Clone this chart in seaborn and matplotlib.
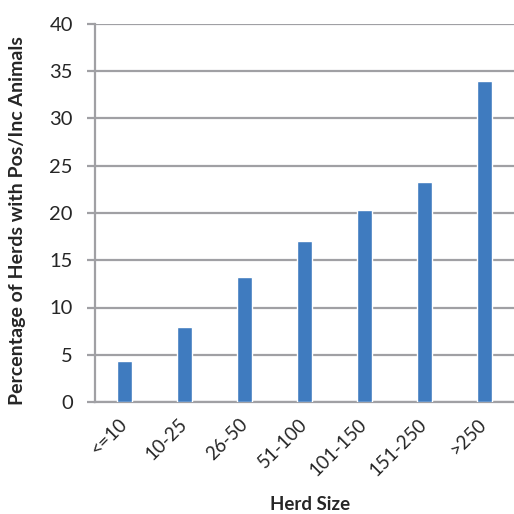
import matplotlib
matplotlib.use('Agg')
import matplotlib.pyplot as plt
import seaborn as sns
import pandas as pd
import numpy as np

# herd size groups and % of herds with pos/inc animals
herd_size = ['<=10', '10-25', '26-50', '51-100', '101-150', '151-250', '>250']
pct_pos = [4.3, 7.9, 13.2, 17.0, 20.3, 23.3, 34.0]

df = pd.DataFrame({'herd': herd_size, 'pct': pct_pos})

sns.set_style('white')
plt.rcParams['font.family'] = ['Lato', 'DejaVu Sans']

fig = plt.figure(figsize=(5.14, 5.14), dpi=100)
ax = fig.add_axes([95/514, 1 - 402/514, 419/514, 378/514])

sns.barplot(data=df, x='herd', y='pct', color='#3F7BBF', width=0.25,
            saturation=1, ax=ax, zorder=3)

ax.set_ylim(0, 40)
ax.set_yticks(np.arange(0, 41, 5))
ax.set_xlim(-0.5, len(herd_size) - 0.5)
ax.yaxis.grid(True, color='#A0A0A4', linewidth=1.6, zorder=0)
ax.set_axisbelow(True)

for s in ['top', 'right']:
    ax.spines[s].set_visible(False)
for s in ['left', 'bottom']:
    ax.spines[s].set_color('#A0A0A4')
    ax.spines[s].set_linewidth(1.6)

# excel style: ticks between the categories
ax.set_xticks(np.arange(-0.5, len(herd_size), 1), minor=True)
ax.tick_params(axis='x', which='major', length=0, labelsize=13.5, pad=14)
ax.tick_params(axis='x', which='minor', length=5, width=1.6, color='#A0A0A4', direction='out')
ax.tick_params(axis='y', length=6, width=1.6, color='#A0A0A4', direction='out',
               left=True, labelsize=14.5, pad=10)
plt.setp(ax.get_xticklabels(), rotation=45, ha='right', va='center', rotation_mode='anchor')

ax.set_xlabel('Herd Size', fontsize=13.5, fontweight='bold')
ax.set_ylabel('Percentage of Herds with Pos/Inc Animals', fontsize=14, fontweight='bold')
ax.xaxis.set_label_coords(0.513, -0.25)
ax.yaxis.set_label_coords(-0.165, 0.48)

fig.savefig('out.png', dpi=100)
